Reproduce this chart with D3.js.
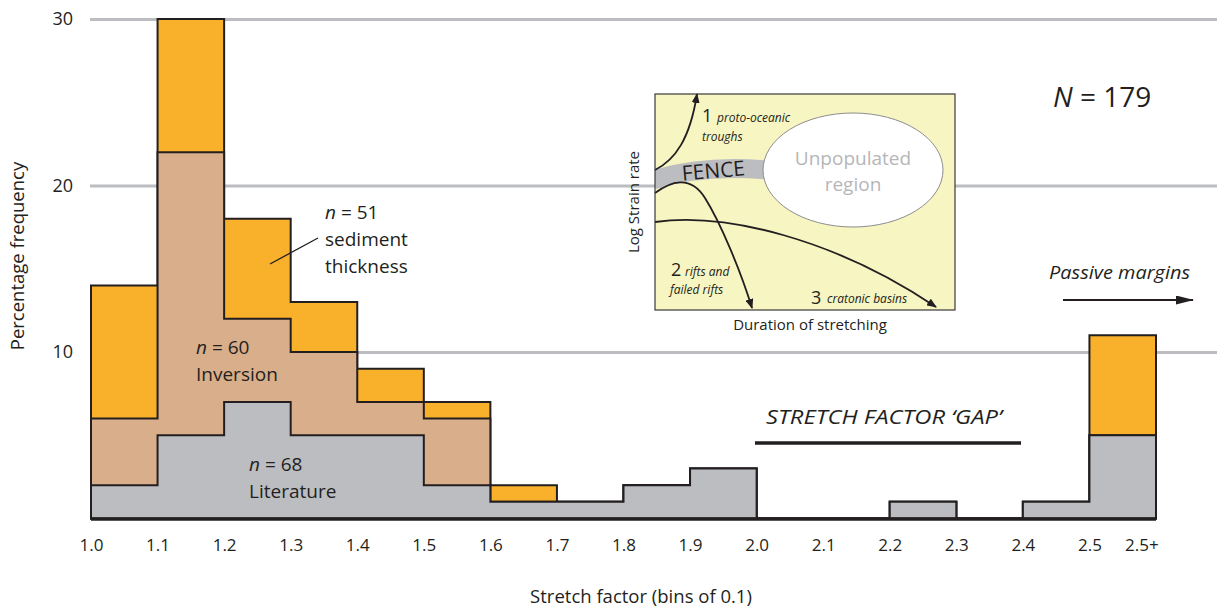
<!DOCTYPE html>
<html>
<head>
<meta charset="utf-8">
<script src="https://cdn.jsdelivr.net/npm/d3@7"></script>
<style>
  html, body { margin: 0; padding: 0; background: #fff; }
  svg { display: block; }
  text { font-family: "Open Sans", Lato, sans-serif; fill: #231f20; }
</style>
</head>
<body>
<svg id="chart" width="1217" height="607"></svg>
<script>
// Stretch-factor bins (0.1 wide) and the percentage of basins in each, by data source
const bins = ["1.0","1.1","1.2","1.3","1.4","1.5","1.6","1.7","1.8","1.9","2.0","2.1","2.2","2.3","2.4","2.5+"];
const literature = [2, 5, 7, 5, 5, 2, 1, 1, 2, 3, 0, 0, 1, 0, 1, 5];
const inversion  = [4, 17, 5, 5, 2, 4, 0, 0, 0, 0, 0, 0, 0, 0, 0, 0];
const sediment   = [8, 8, 6, 3, 2, 1, 1, 0, 0, 0, 0, 0, 0, 0, 0, 6];
const seriesKeys = ["literature", "inversion", "sediment"];
const seriesCounts = [68, 60, 51];
const seriesNames = ["Literature", "Inversion", "sediment thickness"];
const yTicks = [10, 20, 30];
const xTickLabels = ["1.0","1.1","1.2","1.3","1.4","1.5","1.6","1.7","1.8","1.9","2.0","2.1","2.2","2.3","2.4","2.5","2.5+"];
const totalN = 179;

const colors = { literature: "#bcbdc0", inversion: "#d9ae8a", sediment: "#f9b12b" };
const ink = "#231f20";
const font = "'Open Sans', Lato, sans-serif";

const svg = d3.select("#chart");

const x = d3.scaleLinear().domain([0, bins.length]).range([91, 1156]);
const y = d3.scaleLinear().domain([0, 30]).range([518.5, 19]);

// Horizontal grid lines with the value labels on the left
const yAxis = svg.append("g")
  .attr("transform", "translate(90,0)")
  .call(d3.axisLeft(y).tickValues(yTicks).tickSize(-(1217 - 90)).tickPadding(17))
  .call(g => g.select(".domain").remove());
yAxis.selectAll(".tick line").attr("stroke", "#bcbdc0").attr("stroke-width", 3);
yAxis.selectAll(".tick text").attr("font-size", 18).attr("fill", ink)
  .style("font-family", font);

// Stacked histogram, one stepped outline per source
const rows = bins.map((b, i) => ({
  i, literature: literature[i], inversion: inversion[i], sediment: sediment[i]
}));
const stacked = d3.stack().keys(seriesKeys)(rows);

const area = d3.area()
  .curve(d3.curveStepAfter)
  .x(p => x(p.i))
  .y0(y(0))
  .y1(p => y(p.top));

const layers = stacked.map(s => {
  const pts = s.map((d, i) => ({ i, top: d[1] }));
  pts.push({ i: bins.length, top: s[s.length - 1][1] });
  return { key: s.key, pts };
}).reverse();

svg.append("g").selectAll("path")
  .data(layers)
  .join("path")
  .attr("d", d => area(d.pts))
  .attr("fill", d => colors[d.key])
  .attr("stroke", ink)
  .attr("stroke-width", 2)
  .attr("stroke-linejoin", "miter");

// Base line of the histogram
svg.append("line")
  .attr("x1", x(0)).attr("x2", x(bins.length))
  .attr("y1", y(0) + 0.5).attr("y2", y(0) + 0.5)
  .attr("stroke", ink).attr("stroke-width", 3.5);

// Bin-edge labels along the bottom
const xTickPos = xTickLabels.map((t, i) => i < bins.length ? i : bins.length - 0.22);
const xAxis = svg.append("g")
  .attr("transform", `translate(0,${y(0)})`)
  .call(d3.axisBottom(x).tickValues(xTickPos).tickFormat((d, i) => xTickLabels[i]).tickSize(0).tickPadding(20))
  .call(g => g.select(".domain").remove());
xAxis.selectAll(".tick text").attr("font-size", 17).attr("fill", ink)
  .style("font-family", font);

// Axis titles
svg.append("text")
  .attr("x", 641).attr("y", 603)
  .attr("text-anchor", "middle").attr("font-size", 18.5)
  .text("Stretch factor (bins of 0.1)");
svg.append("text")
  .attr("transform", "translate(24,256) rotate(-90)")
  .attr("text-anchor", "middle").attr("font-size", 18.5)
  .text("Percentage frequency");

// Series labels
function seriesLabel(px, py, count, name) {
  const t = svg.append("text").attr("x", px).attr("y", py).attr("font-size", 19);
  t.append("tspan").attr("font-style", "italic").text("n");
  t.append("tspan").text(" = " + count);
  const words = name === "sediment thickness" ? ["sediment", "thickness"] : [name];
  words.forEach((w, k) => {
    svg.append("text").attr("x", px).attr("y", py + 27 * (k + 1)).attr("font-size", 19).text(w);
  });
}
seriesLabel(325, 219, seriesCounts[2], seriesNames[2]);
seriesLabel(196, 354, seriesCounts[1], seriesNames[1]);
seriesLabel(249, 471, seriesCounts[0], seriesNames[0]);

svg.append("line")
  .attr("x1", 270).attr("y1", 264).attr("x2", 318).attr("y2", 238)
  .attr("stroke", ink).attr("stroke-width", 1.3);

// Total count
const nt = svg.append("text").attr("x", 1053).attr("y", 107).attr("font-size", 28);
nt.append("tspan").attr("font-style", "italic").text("N");
nt.append("tspan").text(" = " + totalN);

// Arrow heads
const defs = svg.append("defs");
defs.append("marker")
  .attr("id", "head")
  .attr("viewBox", "0 0 10 8")
  .attr("refX", 9).attr("refY", 4)
  .attr("markerWidth", 10).attr("markerHeight", 8)
  .attr("markerUnits", "userSpaceOnUse")
  .attr("orient", "auto")
  .append("path").attr("d", "M0,0 L10,4 L0,8 Z").attr("fill", ink);
defs.append("marker")
  .attr("id", "headBig")
  .attr("viewBox", "0 0 18 9")
  .attr("refX", 17).attr("refY", 4.5)
  .attr("markerWidth", 18).attr("markerHeight", 9)
  .attr("markerUnits", "userSpaceOnUse")
  .attr("orient", "auto")
  .append("path").attr("d", "M0,0 L18,4.5 L0,9 Z").attr("fill", ink);

// Passive margins pointer
svg.append("text")
  .attr("x", 1049).attr("y", 279).attr("font-size", 19).attr("font-style", "italic")
  .attr("textLength", 141).attr("lengthAdjust", "spacingAndGlyphs")
  .text("Passive margins");
svg.append("line")
  .attr("x1", 1063).attr("y1", 300).attr("x2", 1193).attr("y2", 300)
  .attr("stroke", ink).attr("stroke-width", 1.8)
  .attr("marker-end", "url(#headBig)");

// Stretch factor gap
svg.append("text")
  .attr("x", 766).attr("y", 424).attr("font-size", 20).attr("font-style", "italic")
  .attr("textLength", 236).attr("lengthAdjust", "spacingAndGlyphs")
  .text("STRETCH FACTOR \u2018GAP\u2019");
svg.append("line")
  .attr("x1", 755).attr("y1", 443).attr("x2", 1021).attr("y2", 443)
  .attr("stroke", ink).attr("stroke-width", 3.5);

// Inset: strain rate against duration of stretching
const inset = svg.append("g").attr("transform", "translate(655,94)");
const iw = 300, ih = 216;
defs.append("clipPath").attr("id", "insetClip")
  .append("rect").attr("width", iw).attr("height", ih);

inset.append("rect").attr("width", iw).attr("height", ih).attr("fill", "#f7f5c2");

const ic = inset.append("g").attr("clip-path", "url(#insetClip)");
ic.append("path")
  .attr("d", "M-2,86 Q55,68 130,78")
  .attr("fill", "none").attr("stroke", "#bcbdc0").attr("stroke-width", 19);
ic.append("ellipse")
  .attr("cx", 198).attr("cy", 76).attr("rx", 90).attr("ry", 57)
  .attr("fill", "#fff").attr("stroke", "#8d8d8d").attr("stroke-width", 1);
ic.append("text")
  .attr("x", 198).attr("y", 71).attr("text-anchor", "middle").attr("font-size", 19)
  .style("fill", "#b5b6b8").text("Unpopulated");
ic.append("text")
  .attr("x", 198).attr("y", 97).attr("text-anchor", "middle").attr("font-size", 19)
  .style("fill", "#b5b6b8").text("region");
ic.append("text")
  .attr("transform", "translate(59,84) rotate(-5)")
  .attr("text-anchor", "middle").attr("font-size", 21)
  .text("FENCE");

const curveStyle = sel => sel.attr("fill", "none").attr("stroke", ink).attr("stroke-width", 1.8)
  .attr("marker-end", "url(#head)");
inset.append("path").attr("d", "M0,76 C20,66 35,45 42,0").call(curveStyle);
inset.append("path").attr("d", "M0,99 C15,88 35,80 50,104 C65,128 85,175 97,214").call(curveStyle);
inset.append("path").attr("d", "M0,128 C70,118 180,145 281,213").call(curveStyle);

inset.append("rect").attr("width", iw).attr("height", ih)
  .attr("fill", "none").attr("stroke", "#3a3a3a").attr("stroke-width", 1.2);

// Inset path labels
function insetLabel(num, nx, ny, lines) {
  inset.append("text").attr("x", nx).attr("y", ny).attr("font-size", 18).text(num);
  lines.forEach(l => {
    inset.append("text").attr("x", l[0]).attr("y", l[1]).attr("font-size", 12)
      .attr("font-style", "italic").text(l[2]);
  });
}
insetLabel("1", 47, 28, [[62, 28, "proto-oceanic"], [47, 47, "troughs"]]);
insetLabel("2", 16, 182, [[30, 182, "rifts and"], [15, 200, "failed rifts"]]);
insetLabel("3", 156, 210, [[172, 209, "cratonic basins"]]);

// Inset axis titles
svg.append("text")
  .attr("transform", "translate(639,202) rotate(-90)")
  .attr("text-anchor", "middle").attr("font-size", 15)
  .text("Log Strain rate");
svg.append("text")
  .attr("x", 810).attr("y", 330).attr("text-anchor", "middle").attr("font-size", 15)
  .text("Duration of stretching");
</script>
</body>
</html>
